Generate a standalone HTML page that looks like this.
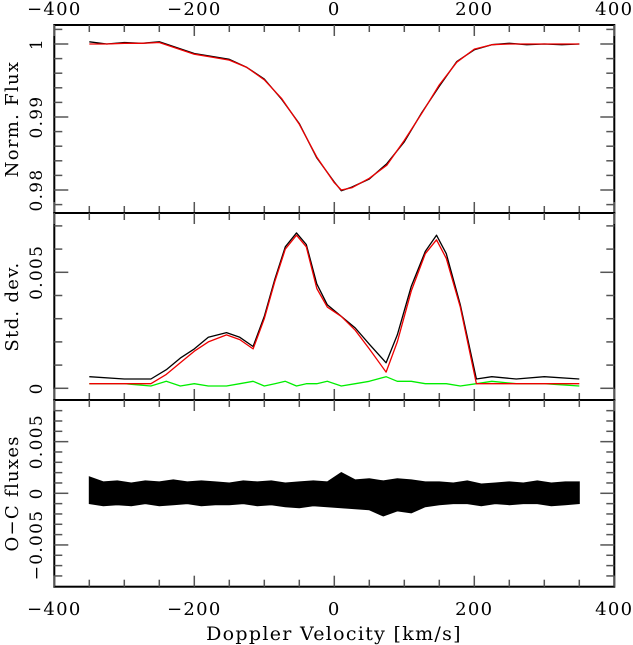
<!DOCTYPE html>
<html><head><meta charset="utf-8"><style>
body{margin:0;background:#fff}
svg{display:block;font-family:"DejaVu Serif","Liberation Serif",serif}
text{letter-spacing:1.3px}
</style></head><body>
<svg id="c" width="633" height="645" viewBox="0 0 633 645"></svg>
<script>
// ---- data ----
const fluxV=[-350,-325,-300,-275,-250,-225,-200,-175,-150,-125,-100,-75,-50,-25,0,10,25,50,75,100,125,150,175,200,225,250,275,300,325,350];
const fluxModel=[1.0000,1.0000,1.0001,1.0001,1.0002,0.9994,0.9986,0.9982,0.9978,0.9968,0.9951,0.9925,0.9890,0.9845,0.9810,0.9800,0.9803,0.9816,0.9834,0.9868,0.9905,0.9944,0.9975,0.9993,0.9999,1.0000,1.0000,1.0000,1.0000,1.0000];
const fluxObs=[1.0003,1.0000,1.0002,1.0001,1.0003,0.9995,0.9987,0.9983,0.9979,0.9968,0.9952,0.9924,0.9891,0.9844,0.9811,0.9799,0.9804,0.9815,0.9836,0.9866,0.9906,0.9942,0.9976,0.9992,0.9999,1.0001,0.9999,1.0000,0.9999,1.0000];
const sdV=[-350,-300,-262,-240,-220,-200,-180,-154,-135,-116,-100,-85,-70,-54,-40,-25,-10,10,30,50,74,90,110,130,146,160,180,203,225,260,300,350];
const sdModel=[0.0002,0.0002,0.0002,0.0006,0.0011,0.0016,0.0020,0.0023,0.0021,0.0017,0.0030,0.0046,0.0060,0.0066,0.0061,0.0043,0.0035,0.0031,0.0025,0.0017,0.0007,0.0020,0.0042,0.0058,0.0064,0.0056,0.0035,0.0002,0.0002,0.0002,0.0002,0.0002];
const sdObs=[0.0005,0.0004,0.0004,0.0008,0.0013,0.0017,0.0022,0.0024,0.0022,0.0018,0.0031,0.0047,0.0061,0.0067,0.0062,0.0045,0.0036,0.0031,0.0026,0.0019,0.0011,0.0023,0.0044,0.0059,0.0066,0.0058,0.0036,0.0004,0.0005,0.0004,0.0005,0.0004];
const sdErr=[0.0002,0.0002,0.0001,0.0003,0.0001,0.0002,0.0001,0.0001,0.0002,0.0003,0.0001,0.0002,0.0003,0.0001,0.0002,0.0002,0.0003,0.0001,0.0002,0.0003,0.0005,0.0003,0.0003,0.0002,0.0002,0.0002,0.0001,0.0002,0.0003,0.0002,0.0002,0.0001];
const ocV=[-350,-330,-310,-290,-270,-250,-230,-210,-190,-170,-150,-130,-110,-90,-70,-50,-30,-10,10,30,50,70,90,110,130,150,170,190,210,230,250,270,290,310,330,350];
const ocUpper=[0.0016,0.0011,0.0012,0.0010,0.0012,0.0011,0.0013,0.0011,0.0012,0.0011,0.0010,0.0012,0.0011,0.0012,0.0010,0.0011,0.0012,0.0011,0.0020,0.0013,0.0014,0.0012,0.0014,0.0013,0.0011,0.0011,0.0010,0.0012,0.0009,0.0010,0.0011,0.0010,0.0012,0.0010,0.0011,0.0011];
const ocLower=[-0.0010,-0.0012,-0.0011,-0.0012,-0.0010,-0.0012,-0.0011,-0.0010,-0.0012,-0.0011,-0.0011,-0.0010,-0.0012,-0.0011,-0.0013,-0.0014,-0.0012,-0.0013,-0.0014,-0.0015,-0.0016,-0.0022,-0.0017,-0.0019,-0.0013,-0.0011,-0.0010,-0.0010,-0.0012,-0.0010,-0.0011,-0.0010,-0.0010,-0.0012,-0.0011,-0.0010];
const xTicks=[-400,-200,0,200,400];

const svg=document.getElementById('c');
const NS='http://www.w3.org/2000/svg';
function mk(t,a,p){const e=document.createElementNS(NS,t);for(const k in a)e.setAttribute(k,a[k]);(p||svg).appendChild(e);return e;}
const X0=54.3,X1=614.3;
const xs=v=>334.3+0.7*v;
const panels=[
 {top:25,bot:213,y:v=>44+(1-v)*7300,min:0.9768,max:1.0026,minor:0.002,major:0.01,labels:[[1,'1'],[0.99,'0.99'],[0.98,'0.98']],title:'Norm. Flux'},
 {top:213,bot:400,y:v=>388.3-v*23200,min:-0.0005,max:0.0075,minor:0.001,major:0.005,labels:[[0,'0'],[0.005,'0.005']],title:'Std. dev.'},
 {top:400,bot:586.7,y:v=>493.3-v*10330,min:-0.009,max:0.009,minor:0.001,major:0.005,labels:[[-0.005,'−0.005'],[0,'0'],[0.005,'0.005']],title:'O−C fluxes'}
];
const g=mk('g',{});


panels.forEach((p,i)=>{
  const f=mk('rect',{x:X0,y:p.top,width:X1-X0,height:p.bot-p.top,fill:'none',stroke:'#000','stroke-width':2},g);
  
  
  for(let v=-400;v<=400;v+=50){
    const L=(v%200===0)?11:7;
    mk('line',{x1:xs(v),x2:xs(v),y1:p.bot,y2:p.bot-L,stroke:'#555','stroke-width':1.5},g);
    mk('line',{x1:xs(v),x2:xs(v),y1:p.top,y2:p.top+L,stroke:'#555','stroke-width':1.5},g);
  }
  const n0=Math.ceil(p.min/p.minor-1e-6),n1=Math.floor(p.max/p.minor+1e-6);
  for(let n=n0;n<=n1;n++){
    const v=n*p.minor;const maj=Math.abs(v/p.major-Math.round(v/p.major))<1e-6;
    const L=maj?14:8;const y=p.y(v);
    if(y<=p.top+1||y>=p.bot-1)continue;
    mk('line',{x1:X0,x2:X0+L,y1:y,y2:y,stroke:'#555','stroke-width':1.5},g);
    mk('line',{x1:X1,x2:X1-L,y1:y,y2:y,stroke:'#555','stroke-width':1.5},g);
  }
  p.labels.forEach(([v,s])=>{
    const y=p.y(v);
    const t=mk('text',{x:0,y:0,transform:`translate(42,${y}) rotate(-90)`,'text-anchor':'middle','font-size':17},g);
    t.textContent=s;
    
    
  });
  const tt=mk('text',{x:0,y:0,transform:`translate(18,${(p.top+p.bot)/2}) rotate(-90)`,'text-anchor':'middle','font-size':18},g);
  tt.textContent=p.title;
  
  
});
xTicks.forEach(v=>{
  [15,615].forEach(y=>{
    const t=mk('text',{x:xs(v),y:y,'text-anchor':'middle','font-size':18},g);
    t.textContent=(v<0?'−':'')+Math.abs(v);
    
    
  });
});
const xt=mk('text',{x:334,y:640,'text-anchor':'middle','font-size':19},g);
xt.textContent='Doppler Velocity [km/s]';



function line(xv,yv,yf,color,name,w){
  const d=xv.map((v,i)=>(i?'L':'M')+xs(v).toFixed(1)+','+yf(yv[i]).toFixed(1)).join('');
  const e=mk('path',{d:d,fill:'none',stroke:color,'stroke-width':w||1.3,'stroke-linejoin':'round'});
  
  
}
line(fluxV,fluxObs,panels[0].y,'#000','flux-observed');
line(fluxV,fluxModel,panels[0].y,'#e00','flux-model');
line(sdV,sdErr,panels[1].y,'#0e0','std-dev-noise');
line(sdV,sdObs,panels[1].y,'#000','std-dev-observed');
line(sdV,sdModel,panels[1].y,'#e00','std-dev-model');
const y2=panels[2].y;
let d='M'+ocV.map((v,i)=>xs(v).toFixed(1)+','+y2(ocUpper[i]).toFixed(1)).join('L');
for(let i=ocV.length-1;i>=0;i--)d+='L'+xs(ocV[i]).toFixed(1)+','+y2(ocLower[i]).toFixed(1);
const band=mk('path',{d:d+'Z',fill:'#000',stroke:'#000','stroke-width':1});


</script>
</body></html>
